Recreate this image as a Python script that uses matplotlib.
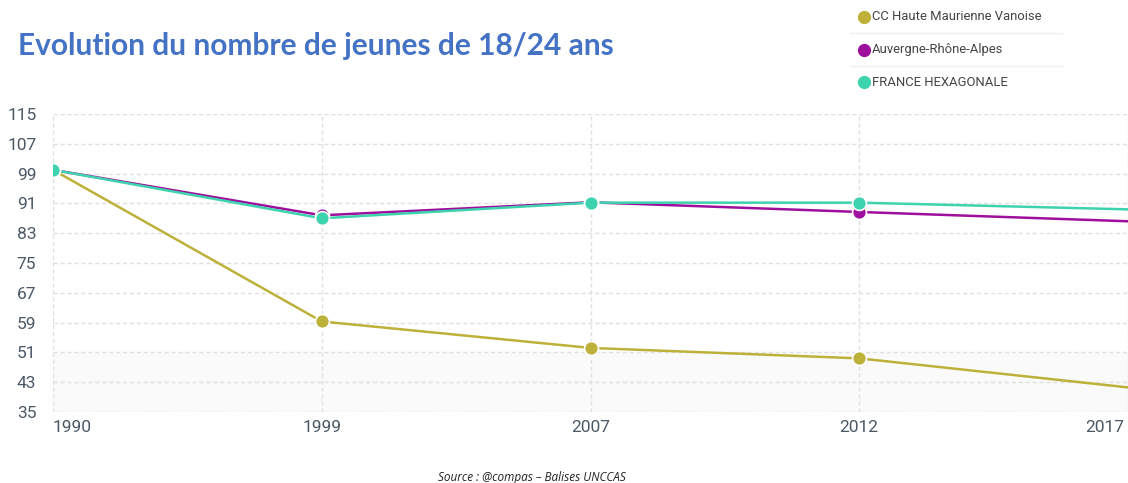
import matplotlib
matplotlib.use("Agg")
import matplotlib.pyplot as plt
from matplotlib.lines import Line2D
import matplotlib.transforms as mtransforms

years = ["1990", "1999", "2007", "2012", "2017"]
cc_hmv = [100, 59.3, 52.2, 49.4, 41.6]
auvergne = [100, 87.8, 91.3, 88.7, 86.2]
france = [100, 87.0, 91.2, 91.2, 89.4]
yticks = [35, 43, 51, 59, 67, 75, 83, 91, 99, 107, 115]

series = [
    ("CC Haute Maurienne Vanoise", cc_hmv, "#BDB13A"),
    ("Auvergne-Rhône-Alpes", auvergne, "#9E0F9E"),
    ("FRANCE HEXAGONALE", france, "#3ED3AF"),
]

W, H = 1128, 483
fig = plt.figure(figsize=(W / 100, H / 100), dpi=100)
left_px, right_px, top_px, bot_px = 53, 1128, 114, 412
ax = fig.add_axes([left_px / W, 1 - bot_px / H, (right_px - left_px) / W, (bot_px - top_px) / H])

x = list(range(len(years)))
for name, vals, col in series:
    ax.plot(x, vals, color=col, lw=1.8, zorder=3)
for name, vals, col in series:
    ax.plot(x[:-1], vals[:-1], linestyle="none", marker="o", ms=10, mfc=col, mec="white",
            mew=1.2, zorder=4)

ax.set_xlim(0, 4 * (right_px - left_px) / (1130 - left_px))
ax.set_ylim(35, 115)
ax.set_yticks(yticks)
ax.set_xticks(x)
ax.set_xticklabels(years)
for sp in ax.spines.values():
    sp.set_visible(False)
ax.grid(True, color="#e0e0e0", linestyle=(0, (3, 2)), lw=1)
ax.set_axisbelow(True)
ax.tick_params(length=0, labelsize=12.5, labelcolor="#4b5866")
ax.tick_params(axis="y", pad=12)
ax.tick_params(axis="x", pad=6)
for lab in ax.get_yticklabels() + ax.get_xticklabels():
    lab.set_fontfamily("Roboto")
xl = ax.get_xticklabels()
xl[0].set_horizontalalignment("left")
xl[-1].set_horizontalalignment("right")
xl[-1].set_transform(xl[-1].get_transform() + mtransforms.ScaledTranslation(-4 / 100, 0, fig.dpi_scale_trans))
ax.axhspan(35, 51, color="#fafafa", zorder=0)

fig.text(18 / W, 1 - 46 / H, "Evolution du nombre de jeunes de 18/24 ans", fontsize=21.5,
         fontweight="bold", color="#4472C4", family="Lato", va="center", ha="left")

# legend
rows_y = [17, 50, 82]
for (name, vals, col), ry in zip(series, rows_y):
    fig.add_artist(Line2D([864 / W], [1 - ry / H], marker="o", ms=8.5, color=col, linestyle="none",
                          transform=fig.transFigure))
    fig.text(872 / W, 1 - ry / H, name, fontsize=9.4, family="Roboto", color="#444444",
             va="center", ha="left")
for sy in [33, 66]:
    fig.add_artist(Line2D([850 / W, 1062 / W], [1 - sy / H, 1 - sy / H], color="#eeeeee", lw=1,
                          transform=fig.transFigure))

fig.text(532 / W, 1 - 477 / H, "Source : @compas – Balises UNCCAS", fontsize=8.5, style="italic",
         family="Open Sans", color="#222222", va="center", ha="center")

fig.savefig("out.png", dpi=100)
